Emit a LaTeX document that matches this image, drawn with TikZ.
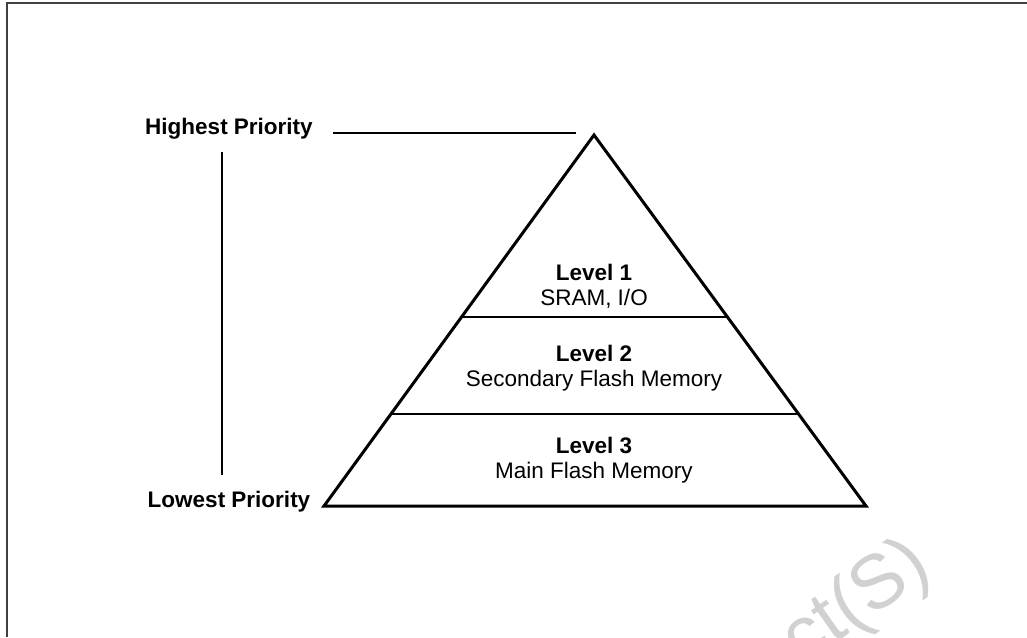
\documentclass[tikz,border=0pt]{standalone}
\usepackage{fontspec}
\setmainfont{Liberation Sans}
\usetikzlibrary{calc}

\tikzset{
	prio/.style={font=\fontsize{11.25}{12.5}\selectfont\bfseries, inner sep=0pt},
	level/.style={align=center, inner sep=0pt},
	thin line/.style={line width=1pt},
	thick line/.style={line width=1.5pt, line join=miter}
}

\begin{document}
\begin{tikzpicture}[x=0.5pt, y=-0.5pt, font=\fontsize{11.25}{12.5}\selectfont]
	\useasboundingbox (0,0) rectangle (1027,637);

	\begin{scope}
		\clip (0,0) rectangle (1027,637);
		\node[text=black!18, rotate=35, inner sep=0pt, font=\fontsize{38}{38}\selectfont] (mark) at (857,604) {ct(S)};
	\end{scope}

	% frame
	\draw[thin line, black!75] (7,637) -- (7,3) -- (1027,3);

	% pyramid
	\coordinate (apex) at (594,135);
	\coordinate (baseL) at (324,506);
	\coordinate (baseR) at (866,506);
	\coordinate (cut1L) at ($(apex)!0.4906!(baseL)$);
	\coordinate (cut1R) at ($(apex)!0.4906!(baseR)$);
	\coordinate (cut2L) at ($(apex)!0.752!(baseL)$);
	\coordinate (cut2R) at ($(apex)!0.752!(baseR)$);

	\draw[thick line] (apex) -- (baseL) -- (baseR) -- cycle;
	\draw[thin line] (cut1L) -- (cut1R);
	\draw[thin line] (cut2L) -- (cut2R);

	\node[level] (lvl1) at (594,286.5) {\textbf{Level 1}\\SRAM, I/O};
	\node[level] (lvl2) at (594,368.5) {\textbf{Level 2}\\Secondary Flash Memory};
	\node[level] (lvl3) at (594,460) {\textbf{Level 3}\\Main Flash Memory};

	% priority scale
	\node[prio] (high) at (229,129) {Highest Priority};
	\node[prio] (low) at (229,502) {Lowest Priority};
	\coordinate (highEnd) at (576,133);

	\draw[thin line] ([xshift=10pt,yshift=-2pt]high.east) -- (highEnd);
	\draw[thin line] ([xshift=-3.5pt,yshift=-6pt]high.south) -- ([xshift=-3.5pt,yshift=8pt]low.north);
\end{tikzpicture}
\end{document}
